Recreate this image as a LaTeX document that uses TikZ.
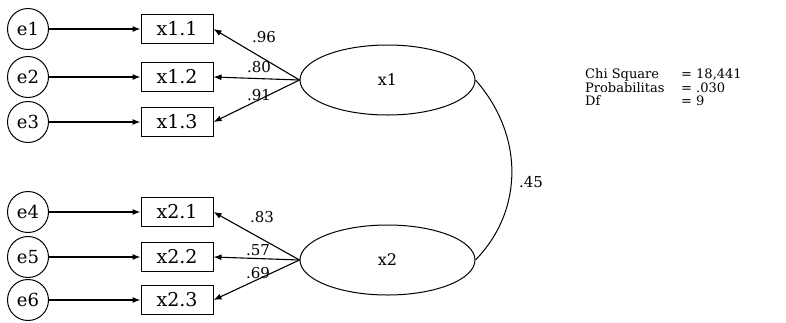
\documentclass[tikz,border=0pt]{standalone}
\usepackage{fontspec}
\setmainfont{DejaVu Serif}
\usetikzlibrary{arrows.meta,shapes.geometric}
\begin{document}
\begin{tikzpicture}[x=1pt,y=-1pt,
  errc/.style={draw,circle,minimum size=41pt,inner sep=0pt,line width=1pt,font=\fontsize{18}{18}\selectfont},
  obs/.style={draw,rectangle,minimum width=72pt,minimum height=29pt,inner sep=0pt,line width=1pt,font=\fontsize{19}{19}\selectfont},
  lat/.style={draw,ellipse,minimum width=175pt,minimum height=70pt,inner sep=0pt,line width=1pt,font=\fontsize{16}{16}\selectfont},
  arr/.style={-{Latex[length=8pt,width=6pt]},line width=1.1pt},
  lbl/.style={font=\fontsize{15}{15}\selectfont,inner sep=0pt},
  stat/.style={font=\fontsize{13}{13}\selectfont,inner sep=0pt,anchor=west}]
\useasboundingbox (0,0) rectangle (786,322);
% error terms
\node[errc] (e1) at (28,29) {e1};
\node[errc] (e2) at (28,77) {e2};
\node[errc] (e3) at (28,122) {e3};
\node[errc] (e4) at (28,212) {e4};
\node[errc] (e5) at (28,257) {e5};
\node[errc] (e6) at (28,300) {e6};
% observed
\node[obs] (x11) at (177,29) {x1.1};
\node[obs] (x12) at (177,77) {x1.2};
\node[obs] (x13) at (177,122) {x1.3};
\node[obs] (x21) at (177,212) {x2.1};
\node[obs] (x22) at (177,257) {x2.2};
\node[obs] (x23) at (177,300) {x2.3};
% latent
\node[lat] (x1) at (387.5,80) {x1};
\node[lat] (x2) at (387.5,260) {x2};
% error arrows
\draw[arr] (e1) -- (x11);
\draw[arr] (e2) -- (x12);
\draw[arr] (e3) -- (x13);
\draw[arr] (e4) -- (x21);
\draw[arr] (e5) -- (x22);
\draw[arr] (e6) -- (x23);
% loadings
\draw[arr] (x1.west) -- (x11.east);
\draw[arr] (x1.west) -- (x12.east);
\draw[arr] (x1.west) -- (x13.east);
\draw[arr] (x2.west) -- (x21.east);
\draw[arr] (x2.west) -- (x22.east);
\draw[arr] (x2.west) -- (x23.east);
\node[lbl] (l96) at (264,37) {.96};
\node[lbl] (l80) at (259,67) {.80};
\node[lbl] (l91) at (259,95) {.91};
\node[lbl] (l83) at (262,217) {.83};
\node[lbl] (l57) at (258,250) {.57};
\node[lbl] (l69) at (258,273) {.69};
% correlation
\draw[line width=1pt] (x1.east) .. controls (524,135) and (524,210) .. (x2.east);
\node[lbl] (l45) at (531,182) {.45};
% stats
\node[stat] (s1) at (585,75) {Chi Square};
\node[stat] (s2) at (585,88) {Probabilitas};
\node[stat] (s3) at (585,101) {Df};
\node[stat] (v1) at (681,75) {= 18,441};
\node[stat] (v2) at (681,88) {= .030};
\node[stat] (v3) at (681,101) {= 9};
\end{tikzpicture}
\end{document}
